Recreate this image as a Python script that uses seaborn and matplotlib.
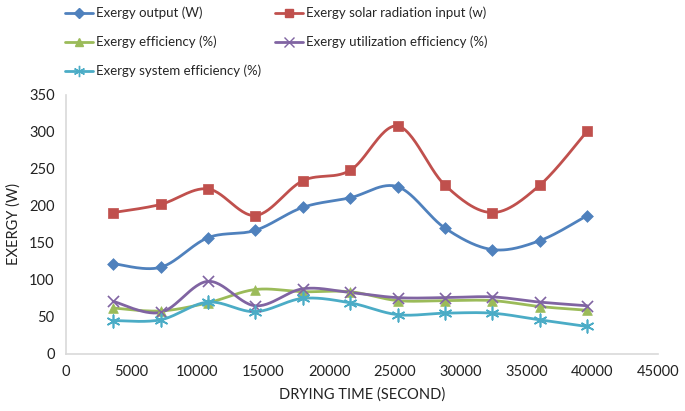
import numpy as np
import matplotlib
matplotlib.use("Agg")
import matplotlib.pyplot as plt
from matplotlib.lines import Line2D
import seaborn as sns

# drying time (s) and exergy series
time_s = [3600, 7200, 10800, 14400, 18000, 21600, 25200, 28800, 32400, 36000, 39600]
exergy_output = [122, 117, 157, 167, 198, 211, 226, 170, 141, 153, 187]
solar_input = [191, 202, 223, 187, 234, 248, 308, 228, 191, 228, 301]
exergy_eff = [62, 58, 69, 87, 84, 84, 72, 72, 72, 64, 59]
utilization_eff = [71, 56, 98, 65, 88, 83, 76, 76, 77, 70, 65]
system_eff = [45, 46, 70, 57, 75, 69, 53, 55, 55, 46, 37]

labels = ["Exergy output (W)", "Exergy solar radiation input (w)",
          "Exergy efficiency (%)", "Exergy utilization efficiency (%)",
          "Exergy system efficiency (%)"]
colors = ["#4F81BD", "#C0504D", "#9BBB59", "#8064A2", "#4BACC6"]
markers = ["D", "s", "^", "x", (6, 2, 0)]
msizes = [6, 7, 7, 8, 9]


def smooth(x, y, n=30):
    # Excel-style smoothed line: cubic Bezier with Catmull-Rom control points
    x = np.asarray(x, float)
    y = np.asarray(y, float)
    P = np.column_stack([x, y])
    out = []
    for i in range(len(P) - 1):
        p0 = P[i - 1] if i > 0 else P[i]
        p1, p2 = P[i], P[i + 1]
        p3 = P[i + 2] if i + 2 < len(P) else P[i + 1]
        c1 = p1 + (p2 - p0) / 6
        c2 = p2 - (p3 - p1) / 6
        t = np.linspace(0, 1, n)[:, None]
        seg = ((1 - t) ** 3) * p1 + 3 * ((1 - t) ** 2) * t * c1 + 3 * (1 - t) * t ** 2 * c2 + t ** 3 * p2
        out.append(seg if i == 0 else seg[1:])
    out = np.vstack(out)
    return out[:, 0], out[:, 1]


sns.set_style("white")
plt.rcParams['font.family'] = ['Lato', 'DejaVu Sans']

fig = plt.figure(figsize=(6.85, 4.11), dpi=100)
ax = fig.add_axes([0.096, 0.139, 0.865, 0.630])

series = [exergy_output, solar_input, exergy_eff, utilization_eff, system_eff]
handles = []
for vals, lab, c, m, ms in zip(series, labels, colors, markers, msizes):
    sx, sy = smooth(time_s, vals)
    ax.plot(sx, sy, color=c, lw=2, zorder=2)
    sns.scatterplot(x=time_s, y=vals, ax=ax, marker=m, s=ms ** 2, color=c,
                    edgecolor=c, linewidth=1.2 if m in ("x",) or isinstance(m, tuple) else 0.5,
                    zorder=3, legend=False)
    handles.append(Line2D([], [], color=c, lw=2, marker=m, markersize=ms * 0.9,
                          markeredgecolor=c, label=lab))

ax.set_xlim(0, 45000)
ax.set_ylim(0, 350)
ax.set_xticks(np.arange(0, 45001, 5000))
ax.set_yticks(np.arange(0, 351, 50))
ax.tick_params(axis="both", length=0, labelsize=10.5, colors="#222222", pad=8)
for side in ("top", "right"):
    ax.spines[side].set_visible(False)
for side in ("left", "bottom"):
    ax.spines[side].set_color("#d9d9d9")
    ax.spines[side].set_linewidth(1.2)

ax.set_xlabel("DRYING TIME (SECOND)", fontsize=10.5, color="#222222", labelpad=6)
ax.set_ylabel("EXERGY (W)", fontsize=10.5, color="#222222", labelpad=6)

# legend rows: [output, solar], [efficiency, utilization], [system]
order = [0, 2, 4, 1, 3]
fig.legend(handles=[handles[i] for i in order], ncol=2, loc="upper left",
           bbox_to_anchor=(0.085, 1.0), frameon=False, fontsize=9.5, borderpad=0,
           handlelength=2.1, columnspacing=1.0, labelspacing=1.25, handletextpad=0.3)

fig.savefig("out.png", dpi=100)
